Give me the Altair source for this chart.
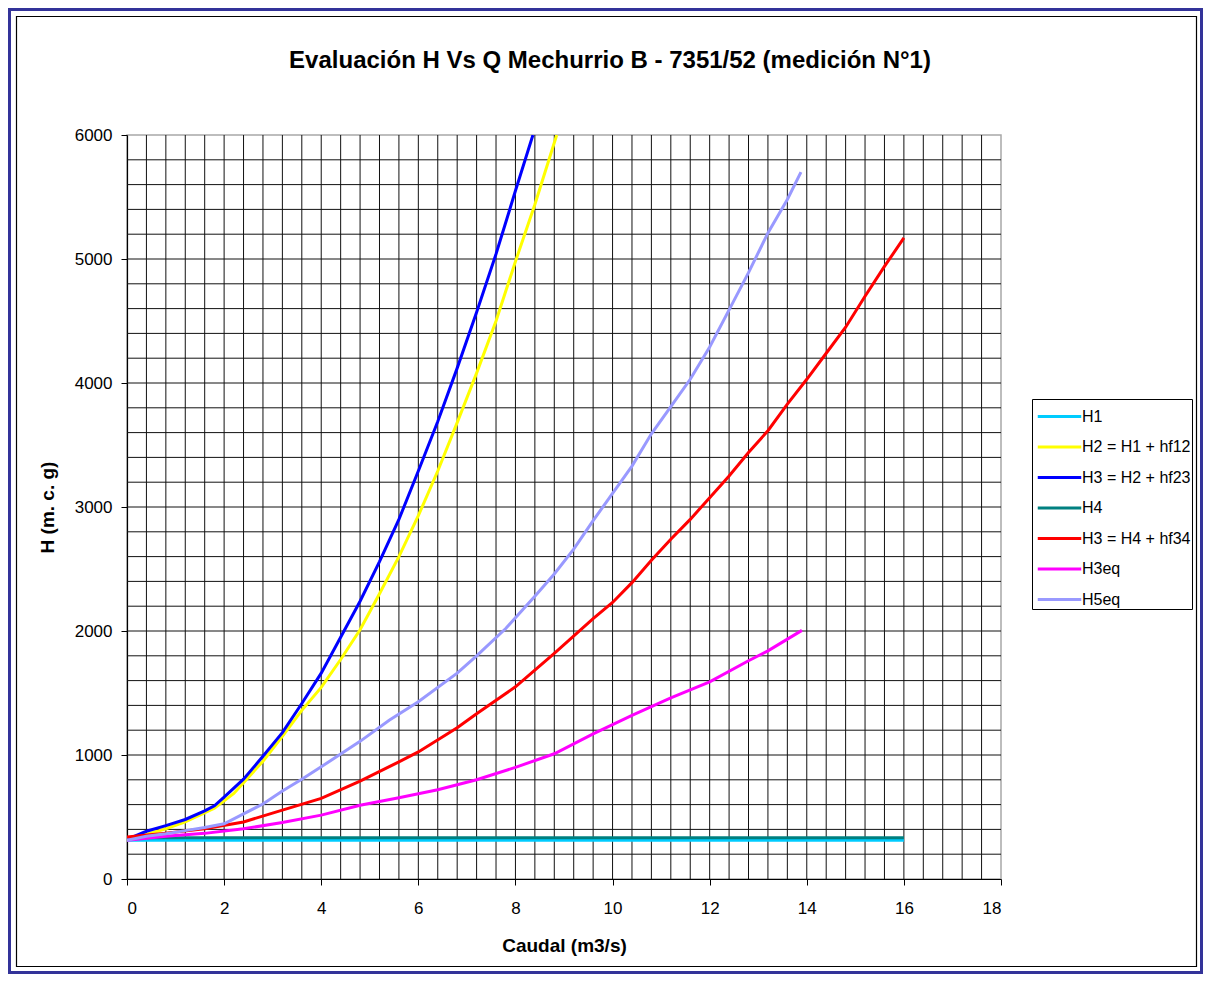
import altair as alt
import pandas as pd

TITLE = "Evaluación H Vs Q Mechurrio B - 7351/52 (medición N°1)"
X_TITLE = "Caudal (m3/s)"
Y_TITLE = "H (m. c. g)"
FONT = "Liberation Sans"

series_names = ["H1", "H2 = H1 + hf12", "H3 = H2 + hf23", "H4",
                "H3 = H4 + hf34", "H3eq", "H5eq"]
series_colors = ["#00CCFF", "#FFFF00", "#0000FF", "#008080",
                 "#FF0000", "#FF00FF", "#9999FF"]

# H1
h1_q = [0, 16]
h1_h = [313, 313]
# H2 = H1 + hf12
h2_q = [0, 0.4, 0.8, 1.2, 1.8, 2.2, 2.8, 3.2, 3.6, 4.0, 4.4, 4.8, 5.2, 5.6,
        6.0, 6.4, 6.8, 7.2, 7.6, 8.0, 8.4, 8.85]
h2_h = [313, 360, 405, 460, 570, 690, 950, 1150, 1360, 1545, 1770, 2010, 2300,
        2600, 2930, 3290, 3680, 4080, 4500, 4980, 5440, 6000]
# H3 = H2 + hf23
h3_q = [0, 0.4, 0.8, 1.2, 1.6, 1.8, 2.0, 2.4, 2.8, 3.2, 3.6, 4.0, 4.4, 4.8,
        5.2, 5.6, 6.0, 6.4, 6.8, 7.2, 7.6, 8.0, 8.36]
h3_h = [320, 385, 430, 480, 550, 590, 660, 805, 990, 1180, 1415, 1660, 1950,
        2240, 2560, 2900, 3290, 3690, 4120, 4570, 5040, 5550, 6000]
# H4
h4_q = [0, 16]
h4_h = [333, 333]
# H3 = H4 + hf34
h34_q = [0, 0.8, 1.6, 2.4, 3.2, 4.0, 4.8, 5.6, 6.0, 6.8, 7.2, 8.0, 8.8, 9.6,
         10.0, 10.4, 10.8, 11.2, 11.6, 12.0, 12.4, 12.8, 13.2, 13.6, 14.0,
         14.4, 14.8, 15.2, 15.6, 16.0]
h34_h = [338, 370, 405, 460, 555, 650, 790, 945, 1025, 1220, 1333, 1550, 1820,
         2100, 2230, 2390, 2570, 2740, 2900, 3075, 3250, 3440, 3615, 3830,
         4030, 4240, 4450, 4700, 4940, 5170]
# H3eq
h3eq_q = [0, 0.8, 1.6, 2.4, 3.2, 4.0, 4.8, 5.6, 6.4, 7.2, 8.0, 8.8, 9.6, 10.4,
          11.2, 12.0, 12.8, 13.2, 13.9]
h3eq_h = [313, 345, 368, 405, 455, 515, 595, 655, 720, 800, 900, 1010, 1170,
          1320, 1460, 1590, 1760, 1840, 2005]
# H5eq
h5eq_q = [0, 0.4, 0.8, 1.2, 1.6, 2.0, 2.4, 2.8, 3.2, 3.6, 4.0, 4.8, 5.4, 6.0,
          6.8, 7.2, 7.8, 8.4, 8.8, 9.2, 9.6, 10.0, 10.4, 10.8, 11.2, 11.6,
          12.0, 12.4, 12.8, 13.2, 13.6, 13.88]
h5eq_h = [313, 345, 365, 390, 415, 445, 525, 605, 710, 805, 905, 1110, 1280,
          1430, 1660, 1800, 2020, 2280, 2460, 2660, 2890, 3110, 3330, 3590,
          3810, 4030, 4290, 4590, 4890, 5210, 5480, 5700]

x_ticks = [0, 2, 4, 6, 8, 10, 12, 14, 16, 18]
y_ticks = [0, 1000, 2000, 3000, 4000, 5000, 6000]
x_grid = [round(0.4 * i, 1) for i in range(1, 45)]
y_grid = [200 * i for i in range(1, 30)]

all_q = [h1_q, h2_q, h3_q, h4_q, h34_q, h3eq_q, h5eq_q]
all_h = [h1_h, h2_h, h3_h, h4_h, h34_h, h3eq_h, h5eq_h]
rows = []
for name, qs, hs in zip(series_names, all_q, all_h):
    for i, (q, h) in enumerate(zip(qs, hs)):
        rows.append({"serie": name, "Q": q, "H": h, "i": i})
df = pd.DataFrame(rows)

W, H = 874, 744
PAD_L, PAD_T = 119, 127
TOTAL_W, TOTAL_H = 1195, 966

xscale = alt.Scale(domain=[0, 18], nice=False, zero=False)
yscale = alt.Scale(domain=[0, 6000], nice=False, zero=False)
x_axis = alt.Axis(values=x_ticks, tickSize=6, labelPadding=15, format="d",
                  titleY=72, titleBaseline="alphabetic")
y_axis = alt.Axis(values=y_ticks, tickSize=6, labelPadding=9, format="d",
                  titleX=-74, titleY=372, titleAngle=270,
                  titleBaseline="alphabetic")

def xenc():
    return alt.X("Q:Q", scale=xscale, title=X_TITLE, axis=x_axis)

def yenc():
    return alt.Y("H:Q", scale=yscale, title=Y_TITLE, axis=y_axis)

grid_x = alt.Chart(pd.DataFrame({"Q": x_grid})).mark_rule(
    color="#111111", strokeWidth=1
).encode(x=xenc())

grid_y = alt.Chart(pd.DataFrame({"H": y_grid})).mark_rule(
    color="#111111", strokeWidth=1
).encode(y=yenc())

lines = alt.Chart(df).mark_line(strokeWidth=3, clip=True).encode(
    x=xenc(),
    y=yenc(),
    color=alt.Color("serie:N",
                    scale=alt.Scale(domain=series_names, range=series_colors),
                    legend=alt.Legend(title=None, orient="none",
                                      legendX=905, legendY=264,
                                      symbolType="M-1.45,0H1.45",
                                      symbolSize=900, symbolStrokeWidth=3,
                                      symbolOffset=10, labelOffset=6,
                                      labelFontSize=16, labelFont=FONT,
                                      labelColor="black", padding=1,
                                      rowPadding=5.5,
                                      strokeColor="black", fillColor="white")),
    order="i:Q",
)

frame_df = pd.DataFrame({"k": [0]})
outer = alt.Chart(frame_df).mark_rect(fill=None, stroke="#333399", strokeWidth=3).encode(
    x=alt.value(1.5 - PAD_L), x2=alt.value(TOTAL_W - 1.5 - PAD_L),
    y=alt.value(1.5 - PAD_T), y2=alt.value(TOTAL_H - 1.5 - PAD_T))
inner = alt.Chart(frame_df).mark_rect(fill=None, stroke="#000000", strokeWidth=1.2).encode(
    x=alt.value(8.5 - PAD_L), x2=alt.value(TOTAL_W - 6.5 - PAD_L),
    y=alt.value(8.5 - PAD_T), y2=alt.value(TOTAL_H - 7.5 - PAD_T))

chart = alt.layer(outer, inner, grid_x, grid_y, lines).properties(
    width=W, height=H,
    padding={"left": PAD_L, "top": PAD_T, "right": TOTAL_W - PAD_L - W,
             "bottom": TOTAL_H - PAD_T - H},
    autosize=alt.AutoSizeParams(type="none"),
    background="white",
    title=alt.TitleParams(text=TITLE, font=FONT, fontSize=24, fontWeight="bold",
                          color="black", anchor="middle", dx=46, dy=84, offset=0,
                          baseline="alphabetic"),
).configure_view(stroke="#a8a8a8", strokeWidth=1.5).configure_axis(
    labelFont=FONT, labelFontSize=17, labelColor="black",
    titleFont=FONT, titleFontSize=19, titleFontWeight="bold", titleColor="black",
    domainColor="black", tickColor="black", grid=False, domainWidth=1.2,
)

chart.save("out.html", embed_options={"renderer": "svg", "actions": False})
